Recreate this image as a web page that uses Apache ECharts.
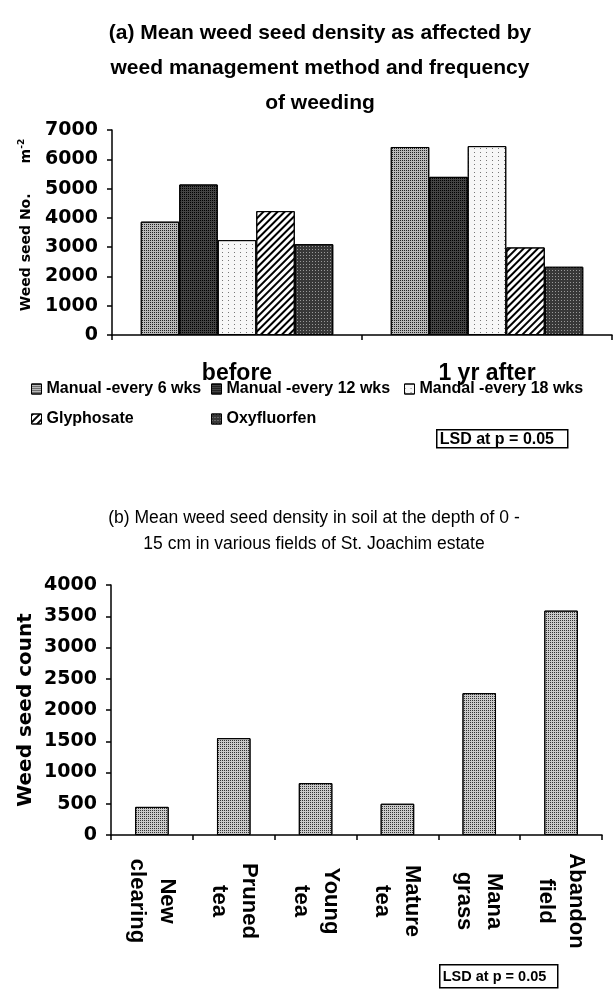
<!DOCTYPE html>
<html>
<head>
<meta charset="utf-8">
<script src="https://cdn.jsdelivr.net/npm/echarts@6/dist/echarts.min.js"></script>
<style>
  html, body { margin: 0; padding: 0; background: #fff; }
  #chart { width: 613px; height: 990px; }
</style>
</head>
<body>
<div id="chart"></div>
<script>
// ---- Data ----
const catsA = ['before', '1 yr after'];
const namesA = ['Manual -every 6 wks', 'Manual -every 12 wks', 'Mandal -every 18 wks', 'Glyphosate', 'Oxyfluorfen'];
const manual6 = [3870, 6420];
const manual12 = [5140, 5400];
const mandal18 = [3240, 6450];
const glyphosate = [4230, 2990];
const oxyfluorfen = [3100, 2330];

const catsB = ['New\nclearing', 'Pruned\ntea', 'Young\ntea', 'Mature\ntea', 'Mana\ngrass', 'Abandon\nfield'];
const seedCount = [450, 1550, 830, 500, 2270, 3590];

const titleA = '(a) Mean weed seed density as affected by\nweed management method and frequency\nof weeding';
const titleB = '(b) Mean weed seed density in soil at the depth of 0 -\n15 cm in various fields of St. Joachim estate';
const lsdText = 'LSD at p = 0.05';

// ---- Styles ----
const WIDE = '"DejaVu Sans", "Liberation Sans", sans-serif';
const SANS = '"Liberation Sans", Arial, sans-serif';

const styleA = [
  { color: '#b9b9b9', decal: { symbol: 'rect', symbolSize: 1, dashArrayX: [1, 1], dashArrayY: [1, 1], color: '#222' } },
  { color: '#444444', decal: { symbol: 'rect', symbolSize: 1, dashArrayX: [1, 1], dashArrayY: [1, 1], color: '#000' } },
  { color: '#f7f7f7', decal: { symbol: 'rect', symbolSize: 1, dashArrayX: [1, 5], dashArrayY: [1, 3], color: '#777' } },
  { color: '#ffffff', decal: { symbol: 'rect', symbolSize: 1, dashArrayX: [1, 0], dashArrayY: [2, 3], rotation: -Math.PI / 4, color: '#000' } },
  { color: '#383838', decal: { symbol: 'rect', symbolSize: 1, dashArrayX: [1, 2], dashArrayY: [1, 2], color: '#999' } }
];
const dataA = [manual6, manual12, mandal18, glyphosate, oxyfluorfen];

const axisLineStyle = { show: true, lineStyle: { color: '#000', width: 1.5 } };
const tickStyle = { show: true, inside: false, length: 5, lineStyle: { color: '#000', width: 1.5 } };
const noComma = v => String(v);

const seriesA = namesA.map((n, i) => ({
  name: n,
  type: 'bar',
  xAxisIndex: 0,
  yAxisIndex: 0,
  data: dataA[i],
  barGap: '0%',
  barCategoryGap: '23%',
  itemStyle: Object.assign({ borderColor: '#000', borderWidth: 1 }, styleA[i]),
  emphasis: { disabled: true }
}));

const seriesB = {
  name: 'Weed seed count',
  type: 'bar',
  xAxisIndex: 1,
  yAxisIndex: 1,
  data: seedCount,
  barWidth: '41%',
  itemStyle: {
    color: '#cacaca', borderColor: '#000', borderWidth: 1,
    decal: { symbol: 'rect', symbolSize: 1, dashArrayX: [1, 1], dashArrayY: [1, 1], color: '#333' }
  },
  emphasis: { disabled: true }
};

const legendPos = [
  { left: 31, top: 381 }, { left: 211, top: 381 }, { left: 404, top: 381 },
  { left: 31, top: 411 }, { left: 211, top: 411 }
];
const legends = namesA.map((n, i) => ({
  data: [n],
  left: legendPos[i].left,
  top: legendPos[i].top,
  orient: 'horizontal',
  itemWidth: 10,
  itemHeight: 10,
  itemGap: 4,
  icon: 'rect',
  selectedMode: false,
  padding: 0,
  itemStyle: { borderColor: '#000', borderWidth: 1 },
  textStyle: { fontFamily: SANS, fontWeight: 'bold', fontSize: 16, color: '#000' }
}));

function lsdBox(x, y, w, h, fs) {
  return {
    type: 'group', left: x, top: y,
    children: [
      { type: 'rect', shape: { x: 0, y: 0, width: w, height: h }, style: { fill: '#fff', stroke: '#000', lineWidth: 1.5 } },
      { type: 'text', x: 3, y: h / 2 + 1, style: { text: lsdText, fontFamily: SANS, fontWeight: 'bold', fontSize: fs, fill: '#000', verticalAlign: 'middle' } }
    ]
  };
}

const option = {
  animation: false,
  backgroundColor: '#fff',
  title: [
    { text: titleA, left: 315, top: 11, textAlign: 'center',
      textStyle: { fontFamily: SANS, fontWeight: 'bold', fontSize: 21, lineHeight: 35, color: '#000' } },
    { text: titleB, left: 309, top: 500, textAlign: 'center',
      textStyle: { fontFamily: SANS, fontWeight: 'normal', fontSize: 17.5, lineHeight: 26, color: '#000' } }
  ],
  legend: legends,
  grid: [
    { left: 112, top: 130, width: 500, height: 205 },
    { left: 111, top: 585, width: 491, height: 250 }
  ],
  xAxis: [
    { type: 'category', gridIndex: 0, data: catsA,
      axisLine: axisLineStyle, axisTick: tickStyle,
      axisLabel: { fontFamily: SANS, fontWeight: 'bold', fontSize: 23, color: '#000', margin: 27 } },
    { type: 'category', gridIndex: 1, data: catsB,
      axisLine: axisLineStyle, axisTick: tickStyle,
      axisLabel: { rotate: -90, align: 'center', verticalAlign: 'middle', margin: 66,
        padding: [8, 0, 0, 0],
        fontFamily: SANS, fontWeight: 'bold', fontSize: 22, lineHeight: 30, color: '#000' } }
  ],
  yAxis: [
    { type: 'value', gridIndex: 0, min: 0, max: 7000, interval: 1000,
      axisLine: axisLineStyle, axisTick: tickStyle, splitLine: { show: false },
      axisLabel: { fontFamily: WIDE, fontWeight: 'bold', fontSize: 19, color: '#000', margin: 14, formatter: noComma },
      name: '{g2|}{a|Weed seed No.}{g|}{a|m}{s|-2}',
      nameLocation: 'middle', nameRotate: 90, nameGap: 76, nameMoveOverlap: false,
      nameTextStyle: {
        rich: {
          g2: { width: 15 },
          a: { fontFamily: WIDE, fontWeight: 'bold', fontSize: 14, color: '#000' },
          g: { width: 30 },
          s: { fontFamily: WIDE, fontWeight: 'bold', fontSize: 9, color: '#000', padding: [0, 0, 10, 0] }
        }
      } },
    { type: 'value', gridIndex: 1, min: 0, max: 4000, interval: 500,
      axisLine: axisLineStyle, axisTick: tickStyle, splitLine: { show: false },
      axisLabel: { fontFamily: WIDE, fontWeight: 'bold', fontSize: 19, color: '#000', margin: 14, formatter: noComma },
      name: 'Weed seed count', nameLocation: 'middle', nameRotate: 90, nameGap: 75, nameMoveOverlap: false,
      nameTextStyle: { fontFamily: WIDE, fontWeight: 'bold', fontSize: 20, color: '#000' } }
  ],
  series: seriesA.concat([seriesB]),
  graphic: [
    lsdBox(436, 429, 131, 18, 16),
    lsdBox(439, 964, 118, 23, 14.5)
  ]
};

const chart = echarts.init(document.getElementById('chart'), null, { renderer: 'canvas' });
chart.setOption(option);
</script>
</body>
</html>
